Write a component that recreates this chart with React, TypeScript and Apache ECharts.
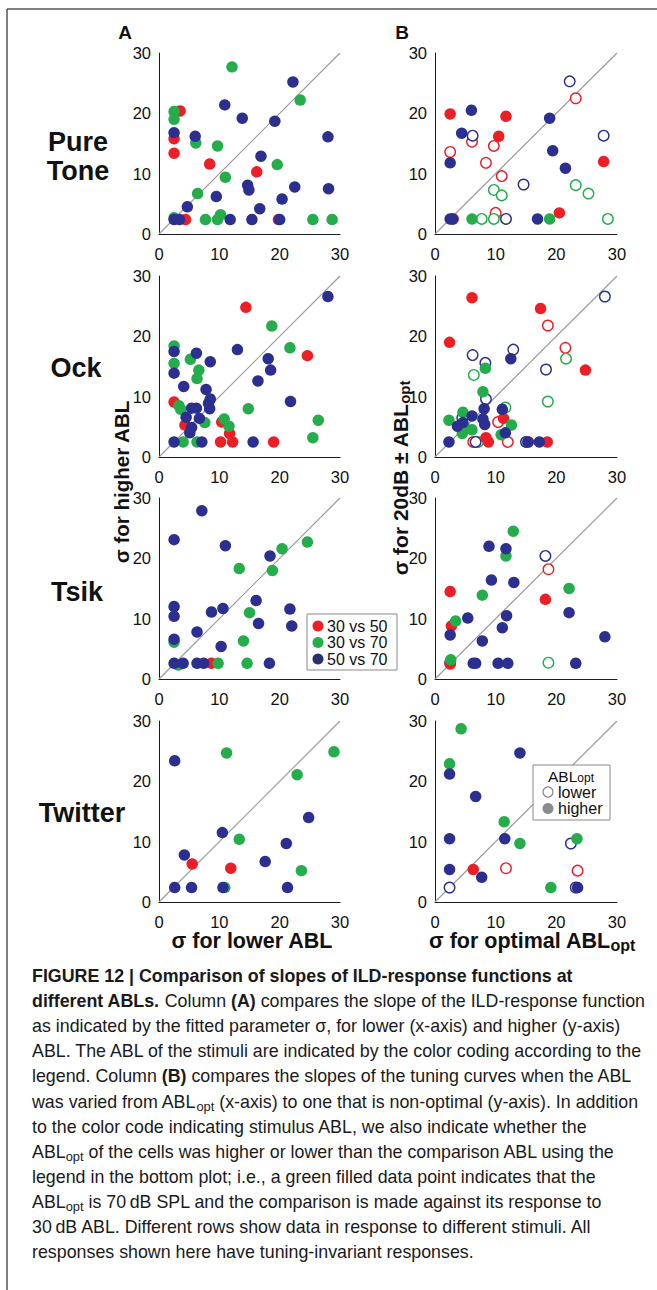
import React, { useEffect, useRef } from 'react';
import * as echarts from 'echarts';

// ---------- DATA ----------
const stimuli = ['Pure\nTone', 'Ock', 'Tsik', 'Twitter'];
const axisTicks = [0, 10, 20, 30];
const diagonal = [[0, 0], [30, 30]];
const legendA = ['30 vs 50', '30 vs 70', '50 vs 70'];
const legendB = ['lower', 'higher'];

// Column A (lower vs higher ABL)
const pureA_red = [[3.5, 20.4], [2.5, 15.8], [2.5, 13.4], [8.4, 11.6], [16.2, 10.3], [4.4, 2.4], [19.8, 2.4]];
const pureA_green = [[12.1, 27.7], [2.5, 20.3], [2.5, 19.0], [6.1, 15.1], [9.7, 14.6], [11.0, 9.4], [6.4, 6.7], [19.6, 11.5], [23.4, 22.2], [2.5, 2.7], [7.7, 2.4], [9.7, 2.4], [10.2, 3.2], [25.5, 2.4], [28.7, 2.4]];
const pureA_blue = [[2.5, 16.8], [6.0, 16.2], [10.9, 21.4], [13.8, 19.2], [19.2, 18.7], [22.2, 25.2], [28.0, 16.1], [16.9, 12.9], [14.7, 8.1], [14.9, 7.3], [9.5, 6.2], [4.7, 4.5], [16.7, 4.2], [20.4, 5.8], [22.5, 7.8], [28.1, 7.5], [2.5, 2.4], [3.4, 2.4], [11.8, 2.4], [15.4, 2.4], [20.0, 2.4]];

const ockA_red = [[2.5, 9.1], [4.3, 5.3], [14.4, 24.8], [24.6, 16.8], [10.4, 5.8], [11.7, 3.9], [12.2, 2.5], [10.2, 2.5], [19.0, 2.5]];
const ockA_green = [[2.5, 18.4], [2.5, 15.5], [5.2, 16.2], [6.6, 14.4], [6.3, 13.0], [3.3, 8.5], [3.6, 7.9], [7.6, 5.7], [10.8, 6.3], [11.6, 5.1], [14.8, 8.0], [18.7, 21.7], [21.7, 18.1], [26.4, 6.1], [25.5, 3.2], [4.0, 2.5], [6.3, 2.5]];
const ockA_blue = [[2.5, 17.5], [6.2, 17.2], [8.5, 15.8], [2.5, 13.9], [4.1, 11.7], [7.8, 11.2], [8.5, 9.6], [8.4, 8.0], [8.2, 8.9], [5.4, 8.1], [6.2, 8.1], [4.5, 6.6], [6.7, 6.4], [5.4, 4.9], [5.1, 4.0], [2.5, 2.5], [7.1, 2.5], [13.0, 17.8], [18.1, 16.3], [18.5, 14.4], [16.4, 12.6], [21.8, 9.2], [28.0, 26.6], [15.6, 2.5]];

const tsikA_red = [[8.7, 2.6]];
const tsikA_green = [[20.4, 21.6], [24.6, 22.7], [13.3, 18.3], [18.8, 18.0], [15.0, 11.0], [14.0, 6.3], [2.5, 6.1], [3.2, 2.3], [9.8, 2.6], [14.6, 2.6]];
const tsikA_blue = [[7.1, 27.9], [2.5, 23.1], [11.0, 22.1], [18.4, 20.4], [2.5, 12.0], [2.5, 10.4], [10.6, 11.7], [8.7, 11.1], [16.1, 13.0], [16.5, 9.2], [21.7, 11.6], [22.0, 8.8], [6.3, 7.8], [2.5, 6.6], [10.3, 5.4], [2.5, 2.6], [4.0, 2.6], [6.3, 2.6], [7.4, 2.6], [18.3, 2.6]];

const twitA_red = [[5.5, 6.3], [11.9, 5.6]];
const twitA_green = [[11.2, 24.7], [29.0, 24.9], [22.9, 21.1], [13.3, 10.4], [23.6, 5.2], [10.9, 2.4]];
const twitA_blue = [[2.6, 23.4], [10.5, 11.5], [4.2, 7.8], [17.6, 6.7], [21.1, 9.7], [24.8, 14.0], [2.6, 2.4], [5.4, 2.4], [10.6, 2.4], [21.3, 2.4]];

// Column B (optimal ABL vs 20 dB away); filled = ABLopt higher, open = ABLopt lower
const pureB_redFilled = [[2.5, 19.9], [11.7, 19.5], [10.5, 16.2], [27.8, 12.0], [20.5, 3.5], [3.0, 2.5]];
const pureB_greenFilled = [[6.1, 2.5], [18.9, 2.5]];
const pureB_blueFilled = [[6.0, 20.5], [4.4, 16.7], [2.5, 11.8], [2.5, 2.5], [2.9, 2.5], [18.9, 19.2], [19.4, 13.8], [21.5, 10.9], [16.9, 2.5]];
const pureB_redOpen = [[2.5, 13.6], [6.1, 15.3], [9.7, 14.6], [8.4, 11.8], [11.0, 9.6], [10.0, 3.5], [23.2, 22.5]];
const pureB_greenOpen = [[9.7, 7.3], [11.0, 6.4], [23.2, 8.1], [25.3, 6.7], [7.7, 2.5], [9.7, 2.5], [28.5, 2.5]];
const pureB_blueOpen = [[6.2, 16.3], [22.2, 25.3], [27.8, 16.3], [14.6, 8.2], [11.7, 2.5]];

const ockB_redFilled = [[6.1, 26.4], [2.4, 19.0], [17.4, 24.6], [24.8, 14.4], [11.3, 6.4], [8.4, 3.2], [8.8, 2.5], [15.4, 2.5], [18.5, 2.5]];
const ockB_greenFilled = [[8.3, 14.7], [7.9, 10.8], [2.3, 6.1], [4.6, 7.4], [4.9, 4.9], [4.5, 3.9], [6.1, 4.5], [10.9, 3.7], [12.6, 5.3]];
const ockB_blueFilled = [[12.5, 16.3], [2.3, 2.5], [3.7, 5.1], [4.6, 5.7], [6.1, 6.8], [8.1, 8.0], [7.9, 6.3], [8.2, 5.4], [11.1, 7.9], [11.6, 4.0], [15.3, 2.5], [17.2, 2.5]];
const ockB_redOpen = [[18.6, 21.8], [21.5, 18.1], [10.4, 5.8], [6.3, 2.5], [12.0, 2.5]];
const ockB_greenOpen = [[6.4, 13.6], [21.6, 16.3], [18.6, 9.2], [11.6, 8.2], [7.1, 2.5]];
const ockB_blueOpen = [[28.0, 26.6], [6.2, 16.9], [8.3, 15.6], [12.9, 17.8], [18.3, 14.5], [8.4, 9.6], [4.5, 6.5], [6.7, 2.5], [15.0, 2.5]];

const tsikB_redFilled = [[2.5, 14.5], [2.7, 8.8], [18.2, 13.2], [2.5, 2.5]];
const tsikB_greenFilled = [[12.9, 24.5], [11.7, 20.4], [7.8, 13.9], [3.4, 9.6], [22.1, 15.0], [2.6, 3.2]];
const tsikB_blueFilled = [[8.9, 22.0], [11.7, 21.6], [9.3, 16.4], [13.0, 16.0], [5.4, 10.1], [11.8, 10.5], [11.1, 8.5], [2.5, 7.3], [7.8, 6.3], [22.1, 11.0], [28.0, 7.0], [6.3, 2.6], [6.7, 2.6], [10.4, 2.6], [12.0, 2.6], [23.2, 2.6]];
const tsikB_redOpen = [[18.7, 18.2]];
const tsikB_greenOpen = [[18.7, 2.7]];
const tsikB_blueOpen = [[18.2, 20.4], [2.5, 2.7]];

const twitB_redFilled = [[6.3, 5.4]];
const twitB_greenFilled = [[4.3, 28.7], [2.4, 22.9], [11.4, 13.3], [14.0, 9.7], [23.4, 10.5], [19.1, 2.4]];
const twitB_blueFilled = [[14.0, 24.7], [2.4, 21.2], [6.7, 17.5], [2.4, 10.5], [11.5, 10.5], [2.4, 5.4], [7.7, 4.1], [23.5, 2.4]];
const twitB_redOpen = [[11.7, 5.6], [23.5, 5.2]];
const twitB_greenOpen: number[][] = [];
const twitB_blueOpen = [[2.4, 2.4], [22.4, 9.7], [23.2, 2.4]];

const captionLines = [
  '{b|FIGURE 12 | Comparison of slopes of ILD-response functions at}',
  '{b|different ABLs.} Column {b|(A)} compares the slope of the ILD-response function',
  'as indicated by the fitted parameter σ, for lower (x-axis) and higher (y-axis)',
  'ABL. The ABL of the stimuli are indicated by the color coding according to the',
  'legend. Column {b|(B)} compares the slopes of the tuning curves when the ABL',
  'was varied from ABL{s|opt} (x-axis) to one that is non-optimal (y-axis). In addition',
  'to the color code indicating stimulus ABL, we also indicate whether the',
  'ABL{s|opt} of the cells was higher or lower than the comparison ABL using the',
  'legend in the bottom plot; i.e., a green filled data point indicates that the',
  'ABL{s|opt} is 70\u2009dB SPL and the comparison is made against its response to',
  '30\u2009dB ABL. Different rows show data in response to different stimuli. All',
  'responses shown here have tuning-invariant responses.',
];

// ---------- STYLE ----------
const FONT = '"Liberation Sans", Arial, Helvetica, sans-serif';
const RED = '#ec1f27';
const GREEN = '#25ad4c';
const BLUE = '#2b2f8f';
const colLeft = [159, 435];
const colWidth = [181, 182];
const rowTop = [53, 276, 498, 721];
const rowHeight = 181;

const panelsA = [
  { red: pureA_red, green: pureA_green, blue: pureA_blue },
  { red: ockA_red, green: ockA_green, blue: ockA_blue },
  { red: tsikA_red, green: tsikA_green, blue: tsikA_blue },
  { red: twitA_red, green: twitA_green, blue: twitA_blue },
];
const panelsB = [
  { rf: pureB_redFilled, gf: pureB_greenFilled, bf: pureB_blueFilled, ro: pureB_redOpen, go: pureB_greenOpen, bo: pureB_blueOpen },
  { rf: ockB_redFilled, gf: ockB_greenFilled, bf: ockB_blueFilled, ro: ockB_redOpen, go: ockB_greenOpen, bo: ockB_blueOpen },
  { rf: tsikB_redFilled, gf: tsikB_greenFilled, bf: tsikB_blueFilled, ro: tsikB_redOpen, go: tsikB_greenOpen, bo: tsikB_blueOpen },
  { rf: twitB_redFilled, gf: twitB_greenFilled, bf: twitB_blueFilled, ro: twitB_redOpen, go: twitB_greenOpen, bo: twitB_blueOpen },
];

function txt(text: string, x: number, y: number, o: any = {}) {
  const fontSize = o.fontSize ?? 16;
  const fontWeight = o.fontWeight ?? 'normal';
  const align = o.align ?? 'left';
  const lh = o.lineHeight ?? Math.round(fontSize * 1.2);
  const subSize = o.subSize ?? Math.round(fontSize * 0.7);
  return {
    type: 'text',
    x,
    y,
    rotation: o.rotation ?? 0,
    scaleX: o.scaleX ?? 1,
    z: o.z ?? 50,
    silent: true,
    style: {
      text,
      fill: o.fill ?? '#111',
      fontSize,
      fontWeight,
      fontFamily: FONT,
      lineHeight: lh,
      align,
      textAlign: align,
      verticalAlign: 'middle',
      textVerticalAlign: 'middle',
      rich: {
        b: { fontSize, fontWeight: 'bold', fontFamily: FONT, lineHeight: lh, fill: o.fill ?? '#111' },
        s: { fontSize: subSize, fontWeight, fontFamily: FONT, lineHeight: Math.round(subSize * 0.9), verticalAlign: 'bottom', fill: o.fill ?? '#111' },
      },
    },
  };
}

function buildOption() {
  const grid: any[] = [];
  const xAxis: any[] = [];
  const yAxis: any[] = [];
  const series: any[] = [];
  const tickMin = axisTicks[0];
  const tickMax = axisTicks[axisTicks.length - 1];
  const tickStep = axisTicks[1] - axisTicks[0];

  const axisBase = {
    type: 'value',
    min: tickMin,
    max: tickMax,
    interval: tickStep,
    axisLine: { show: true, onZero: false, lineStyle: { color: '#1a1a1a', width: 1 } },
    axisTick: { show: false },
    splitLine: { show: false },
  };

  for (let r = 0; r < 4; r++) {
    for (let c = 0; c < 2; c++) {
      const idx = r * 2 + c;
      grid.push({ left: colLeft[c], top: rowTop[r], width: colWidth[c], height: rowHeight });
      xAxis.push({ ...axisBase, gridIndex: idx, axisLabel: { fontSize: 16.5, color: '#111', fontFamily: FONT, margin: 11 } });
      yAxis.push({ ...axisBase, gridIndex: idx, axisLabel: { fontSize: 16.5, color: '#111', fontFamily: FONT, margin: 8 } });
      const ax = { xAxisIndex: idx, yAxisIndex: idx };
      series.push({ ...ax, type: 'line', name: 'identity', data: diagonal, symbol: 'none', silent: true, z: 1, lineStyle: { color: '#9c9c9c', width: 1.2 } });
      const filled = (name: string, data: number[][], color: string) => ({
        ...ax, type: 'scatter', name, data, symbol: 'circle', symbolSize: 11.5, z: 3, itemStyle: { color, opacity: 1 },
      });
      const open = (name: string, data: number[][], color: string) => ({
        ...ax, type: 'scatter', name, data, symbol: 'circle', symbolSize: 10.5, z: 2, itemStyle: { color: '#ffffff', borderColor: color, borderWidth: 1.4, opacity: 1 },
      });
      if (c === 0) {
        const p = panelsA[r];
        series.push(filled(legendA[0], p.red, RED));
        series.push(filled(legendA[1], p.green, GREEN));
        series.push(filled(legendA[2], p.blue, BLUE));
      } else {
        const p = panelsB[r];
        series.push(open(legendA[0] + ' lower', p.ro, RED));
        series.push(open(legendA[1] + ' lower', p.go, GREEN));
        series.push(open(legendA[2] + ' lower', p.bo, BLUE));
        series.push(filled(legendA[0] + ' higher', p.rf, RED));
        series.push(filled(legendA[1] + ' higher', p.gf, GREEN));
        series.push(filled(legendA[2] + ' higher', p.bf, BLUE));
      }
    }
  }

  const elements: any[] = [];
  // frame
  elements.push({ type: 'line', silent: true, shape: { x1: 7, y1: 9, x2: 7, y2: 1290 }, style: { stroke: '#555', lineWidth: 1.5 } });
  elements.push({ type: 'line', silent: true, shape: { x1: 7, y1: 9, x2: 657, y2: 9 }, style: { stroke: '#555', lineWidth: 1.5 } });
  // panel letters
  elements.push(txt('A', 125, 32, { fontSize: 19, fontWeight: 'bold', align: 'center' }));
  elements.push(txt('B', 402, 32, { fontSize: 19, fontWeight: 'bold', align: 'center' }));
  // row labels
  const rowLabelX = [78, 76, 77, 82];
  const rowLabelY = [156, 368, 592, 813];
  stimuli.forEach((s, i) => elements.push(txt(s, rowLabelX[i], rowLabelY[i], { fontSize: 27, fontWeight: 'bold', align: 'center', lineHeight: 29 })));
  // axis titles
  elements.push(txt('σ for higher ABL', 121, 482, { fontSize: 20.5, fontWeight: 'bold', align: 'center', rotation: Math.PI / 2, lineHeight: 24 }));
  elements.push(txt('σ for 20dB ± ABL{s|opt}', 400, 478, { fontSize: 21, fontWeight: 'bold', align: 'center', rotation: Math.PI / 2, lineHeight: 24, subSize: 15 }));
  elements.push(txt('σ for lower ABL', 252, 941, { fontSize: 21.5, fontWeight: 'bold', align: 'center', lineHeight: 25 }));
  elements.push(txt('σ for optimal ABL{s|opt}', 532, 941, { fontSize: 21.5, fontWeight: 'bold', align: 'center', lineHeight: 25, subSize: 16 }));

  // legend A (Tsik column A)
  elements.push({ type: 'rect', z: 60, silent: true, shape: { x: 307, y: 614, width: 90, height: 56 }, style: { fill: '#fff', stroke: '#8a8a8a', lineWidth: 1 } });
  const legColors = [RED, GREEN, '#2a2d6e'];
  legendA.forEach((name, i) => {
    const cy = 626 + i * 16.5;
    elements.push({ type: 'circle', z: 61, silent: true, shape: { cx: 318, cy, r: 5.5 }, style: { fill: legColors[i] } });
    elements.push(txt(name, 327, cy, { fontSize: 16, z: 61, lineHeight: 15 }));
  });

  // legend B (Twitter column B)
  elements.push({ type: 'rect', z: 60, silent: true, shape: { x: 533, y: 765, width: 77, height: 55 }, style: { fill: '#fff', stroke: '#8a8a8a', lineWidth: 1 } });
  elements.push(txt('ABL{s|opt}', 571, 776.5, { fontSize: 15.5, align: 'center', z: 61, lineHeight: 14, subSize: 12 }));
  elements.push({ type: 'circle', z: 61, silent: true, shape: { cx: 548, cy: 792, r: 5 }, style: { fill: '#fff', stroke: '#8a8a8a', lineWidth: 1.3 } });
  elements.push(txt(legendB[0], 558, 792, { fontSize: 16, z: 61, lineHeight: 14 }));
  elements.push({ type: 'circle', z: 61, silent: true, shape: { cx: 548, cy: 808.5, r: 5.5 }, style: { fill: '#8c8c8c' } });
  elements.push(txt(legendB[1], 558, 808.5, { fontSize: 16, z: 61, lineHeight: 14 }));

  // caption
  captionLines.forEach((line, i) => {
    elements.push(txt(line, 32, 976 + i * 25.1, { fontSize: 18, lineHeight: 22, subSize: 13, scaleX: 0.99, fill: '#1a1a1a' }));
  });

  return {
    animation: false,
    backgroundColor: '#ffffff',
    grid,
    xAxis,
    yAxis,
    series,
    graphic: { elements },
  };
}

export default function App() {
  const ref = useRef<HTMLDivElement>(null);
  useEffect(() => {
    if (!ref.current) return;
    const chart = echarts.init(ref.current, undefined, { renderer: 'svg' });
    chart.setOption(buildOption() as any);
    return () => chart.dispose();
  }, []);
  return (
    <div
      ref={ref}
      style={{ position: 'absolute', left: 0, top: 0, width: 657, height: 1290, background: '#fff' }}
    />
  );
}
